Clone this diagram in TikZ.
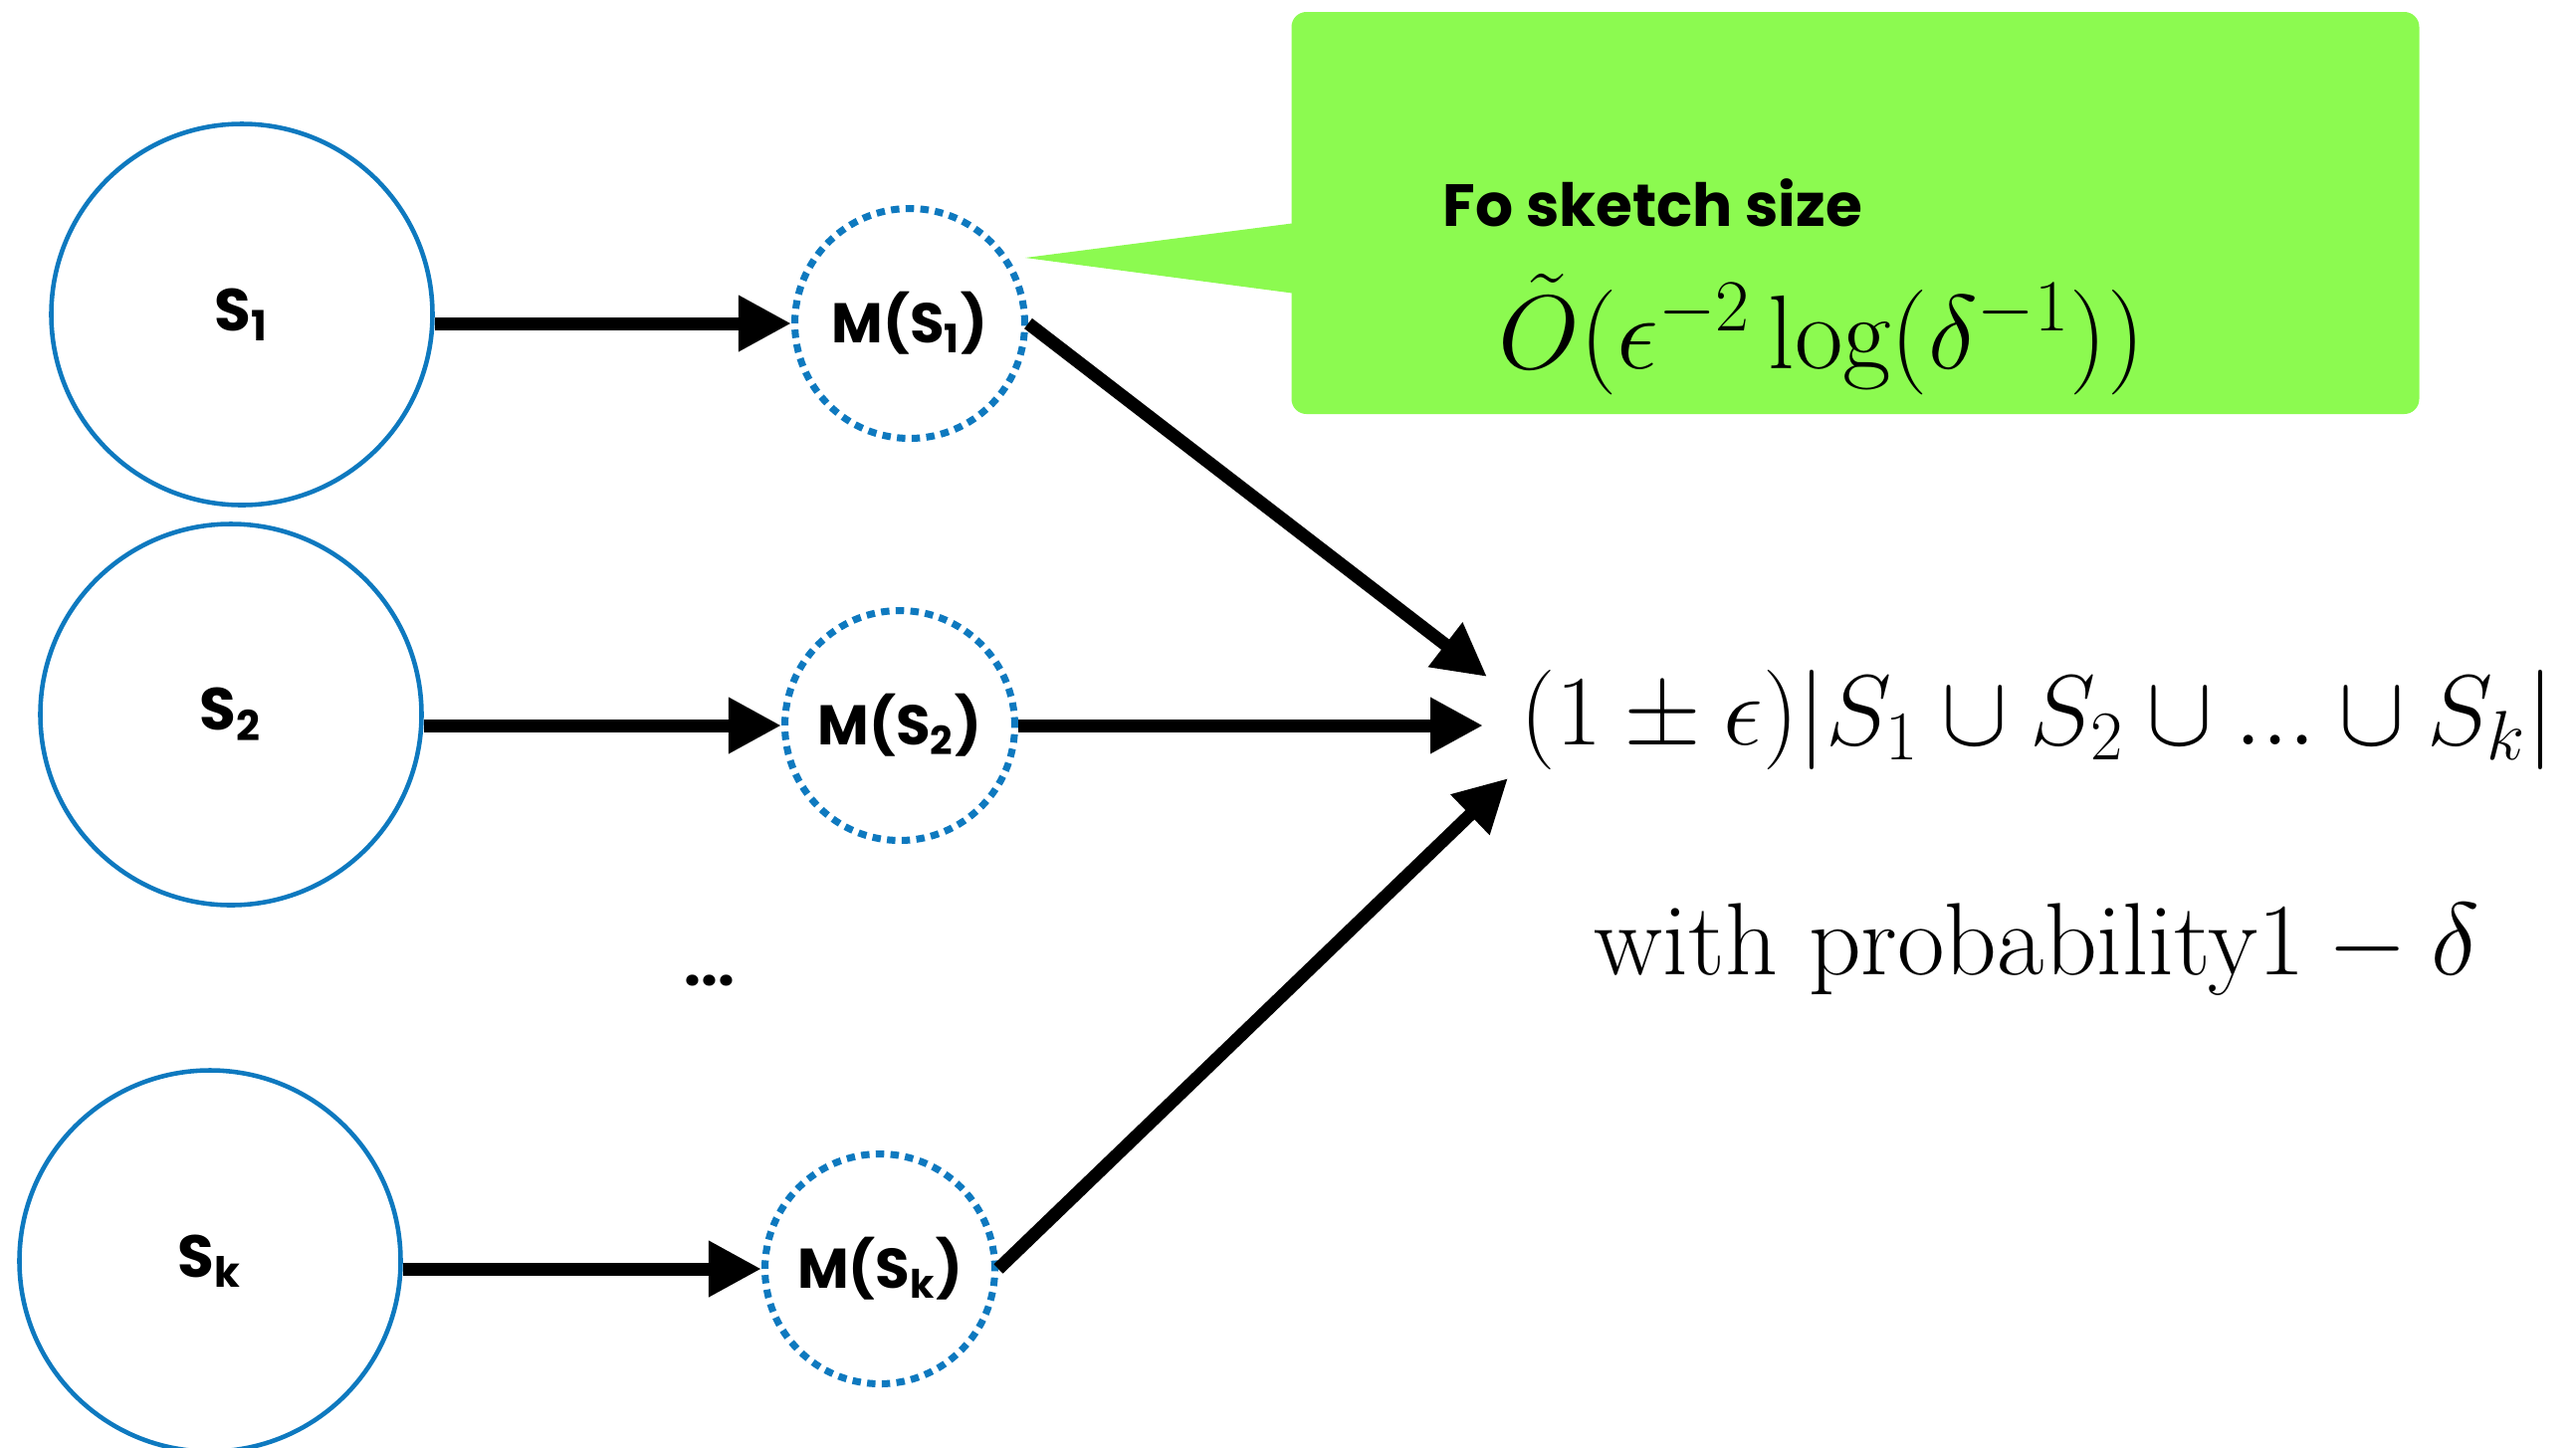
\RequirePackage{fix-cm}
\documentclass[tikz,border=0pt]{standalone}
\usepackage{fontspec}
\usepackage{amsmath}
\usepackage{tikz}
\usetikzlibrary{arrows.meta, positioning, calc}
\setsansfont{Poppins}
\definecolor{setblue}{HTML}{0E79BF}
\definecolor{notegreen}{HTML}{8CFA50}

\begin{document}
\begin{tikzpicture}[
  setnode/.style={circle, draw=setblue, line width=1.3pt, minimum size=3.83cm,
                  font=\sffamily\bfseries\fontsize{17}{20}\selectfont},
  sketchnode/.style={circle, draw=setblue, line width=2pt,
                     dash pattern=on 2.4pt off 1.8pt, minimum size=2.31cm,
                     inner sep=0pt, font=\sffamily\bfseries\fontsize{16}{19}\selectfont},
  flow/.style={-{Triangle[length=0.53cm, width=0.53cm]}, line width=3.7pt},
  mathtext/.style={inner sep=0pt, font=\fontsize{28.5}{34}\selectfont},
]
  \useasboundingbox (0,0) rectangle (25.88,-14.54);

  % sets and their sketches
  \node[setnode] (s1) at (2.43,-3.16) {S\textsubscript{1}};
  \node[setnode] (s2) at (2.32,-7.18) {S\textsubscript{2}};
  \node[setnode] (sk) at (2.11,-12.67) {S\textsubscript{k}};
  \node[sketchnode] (m1) at (9.14,-3.25) {M(S\textsubscript{1})};
  \node[sketchnode] (m2) at (9.04,-7.29) {M(S\textsubscript{2})};
  \node[sketchnode] (mk) at (8.84,-12.75) {M(S\textsubscript{k})};
  \node[font=\sffamily\bfseries\fontsize{17}{20}\selectfont] (gap) at (7.13,-9.85) {...};

  % callout
  \coordinate (tip) at (10.30,-2.59);
  \node[fill=notegreen, rounded corners=0.15cm, minimum width=11.33cm,
        minimum height=4.04cm] (note) at (18.64,-2.14) {};
  \fill[notegreen] ($(note.west)+(0.05,-0.10)$) -- (tip)
    -- ($(note.west)+(0.05,-0.81)$) -- cycle;
  \node[anchor=west, inner sep=0pt, font=\sffamily\bfseries\fontsize{17}{20}\selectfont]
    (notetitle) at (14.49,-2.04) {Fo sketch size};
  \node[mathtext, font=\fontsize{30}{36}\selectfont] (bound) at (18.30,-3.36)
    {$\tilde{O}(\epsilon^{-2}\log(\delta^{-1}))$};

  % estimate
  \node[mathtext, anchor=west] (union) at (15.27,-7.23)
    {$(1 \pm \epsilon)|S_1 \cup S_2 \cup ... \cup S_k|$};
  \node[mathtext, anchor=west, font=\fontsize{29.4}{35}\selectfont] (prob) at (16.01,-9.54)
    {with probability$1-\delta$};

  \foreach \from/\to in {s1/m1, s2/m2, sk/mk} {
    \draw[flow] (\from.east |- \to) -- (\to.west);
  }
  \draw[flow] (m1.east) -- ($(union.west)+(-0.33,0.43)$);
  \draw[flow] (m2.east) -- ($(m2.east -| union.west)+(-0.37,0)$);
  \draw[flow] (mk.east) -- ($(union.west)+(-0.12,-0.59)$);
\end{tikzpicture}
\end{document}
